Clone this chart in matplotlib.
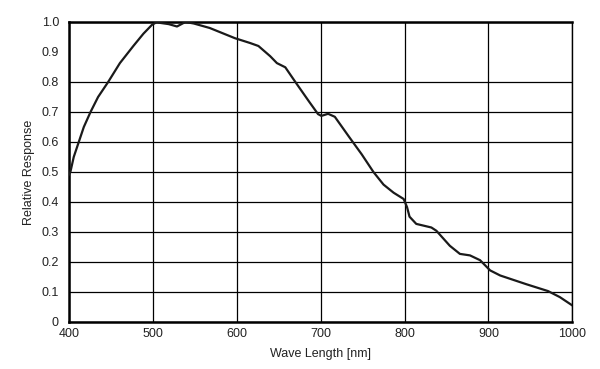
import matplotlib.pyplot as plt

plt.rcParams['font.family'] = ['Liberation Sans', 'DejaVu Sans']

# spectral response
wave = [400, 402, 406, 412, 418, 426, 435, 447, 461, 477, 489, 499, 505, 509,
        519, 529, 539, 549, 568, 598, 616, 626, 640, 648, 658, 670, 686, 697,
        701, 709, 717, 734, 749, 763, 775, 787, 799, 803, 806, 814, 832, 838,
        854, 866, 878, 890, 902, 914, 945, 971, 985, 1000]
resp = [0.49, 0.50, 0.55, 0.60, 0.65, 0.70, 0.75, 0.80, 0.863, 0.92, 0.961,
        0.99, 1.0, 0.997, 0.993, 0.985, 1.0, 0.995, 0.98, 0.946, 0.93, 0.92,
        0.886, 0.863, 0.849, 0.80, 0.736, 0.693, 0.687, 0.694, 0.684, 0.617,
        0.559, 0.50, 0.458, 0.431, 0.41, 0.383, 0.351, 0.327, 0.315, 0.304,
        0.254, 0.227, 0.222, 0.206, 0.172, 0.155, 0.126, 0.103, 0.083, 0.055]

xticks = [400, 500, 600, 700, 800, 900, 1000]
yticks = [0, 0.1, 0.2, 0.3, 0.4, 0.5, 0.6, 0.7, 0.8, 0.9, 1.0]
ylabels = ['0', '0.1', '0.2', '0.3', '0.4', '0.5', '0.6', '0.7', '0.8', '0.9', '1.0']

fig = plt.figure(figsize=(6, 3.69), dpi=100)
ax = fig.add_axes([0.1145, 0.1274, 0.8395, 0.813])

ax.plot(wave, resp, color='#1a1a1a', lw=1.6, zorder=3)

ax.set_xlim(400, 1000)
ax.set_ylim(0, 1.0)
ax.set_xticks(xticks)
ax.set_yticks(yticks)
ax.set_yticklabels(ylabels)
ax.tick_params(length=0, labelsize=9, colors='#222222')
ax.tick_params(axis='y', pad=7)
ax.tick_params(axis='x', pad=4)

ax.grid(True, color='black', lw=0.9)
# the 0.9 line is not drawn in the original
ax.yaxis.get_gridlines()[9].set_visible(False)

for side in ['left', 'top', 'bottom']:
    ax.spines[side].set_linewidth(1.8)
ax.spines['right'].set_linewidth(1.0)

ax.set_xlabel('Wave Length [nm]', fontsize=9, color='#222222', labelpad=6)
ax.set_ylabel('Relative Response', fontsize=9, color='#222222', labelpad=5)

fig.savefig('out.png', dpi=100)
